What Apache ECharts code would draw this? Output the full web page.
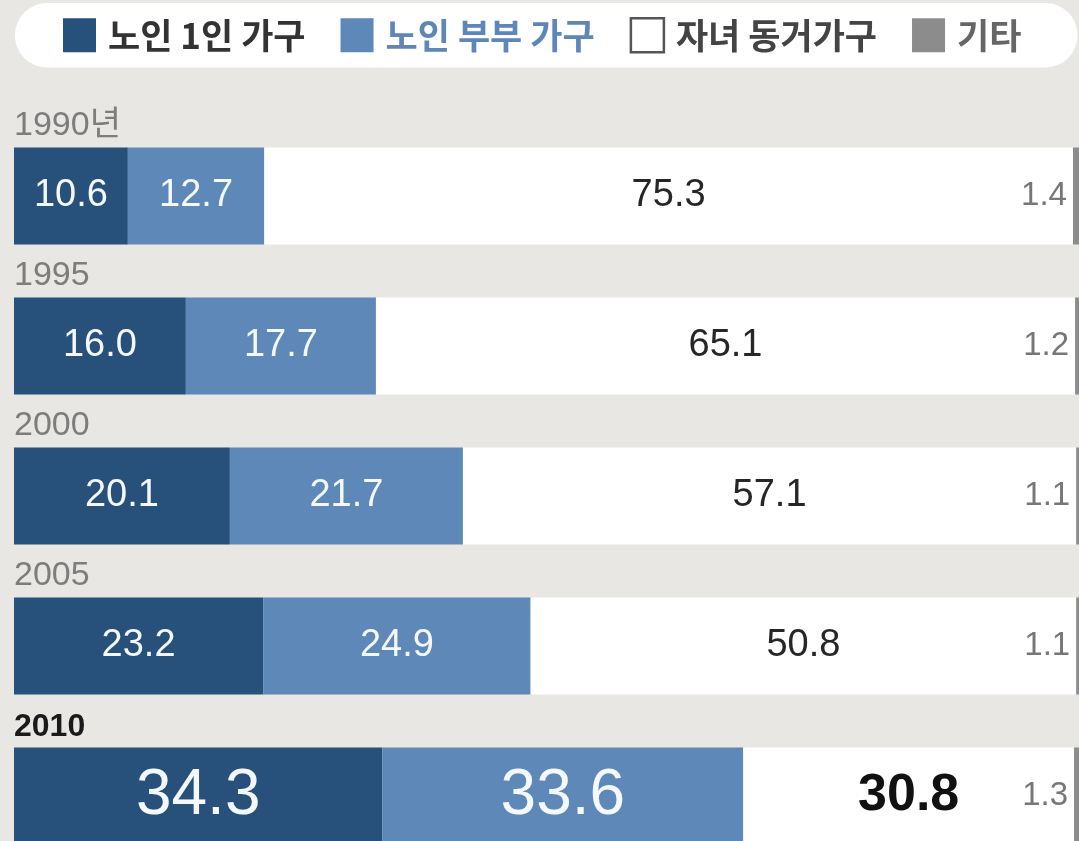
<!DOCTYPE html>
<html>
<head>
<meta charset="utf-8">
<script src="https://cdn.jsdelivr.net/npm/echarts@6/dist/echarts.min.js"></script>
<style>
html,body{margin:0;padding:0;background:#e8e7e4;}
#chart{width:1079px;height:841px;}
</style>
</head>
<body>
<div id="chart"></div>
<script>
// ---- data ----
var years = ['1990년', '1995', '2000', '2005', '2010'];
var seriesNames = ['노인 1인 가구', '노인 부부 가구', '자녀 동거가구', '기타'];
var single = [10.6, 16.0, 20.1, 23.2, 34.3];
var couple = [12.7, 17.7, 21.7, 24.9, 33.6];
var withChildren = [75.3, 65.1, 57.1, 50.8, 30.8];
var other = [1.4, 1.2, 1.1, 1.1, 1.3];

var FONT = "'Liberation Sans', 'Noto Sans CJK KR', sans-serif";
var KFONT = "'Noto Sans CJK KR', 'Liberation Sans', sans-serif";
var hiIndex = years.length - 1;

function fmt(p) { return p.value.toFixed(1); }

function build(values, hiLabel) {
  return values.map(function (v, i) {
    var d = { value: v };
    if (i === hiIndex && hiLabel) d.label = hiLabel;
    return d;
  });
}

var chart = echarts.init(document.getElementById('chart'), null, { renderer: 'canvas' });

var option = {
  backgroundColor: '#e8e7e4',
  animation: false,
  legend: {
    left: 15,
    top: 3,
    width: 1010,
    padding: [14, 56, 14, 48],
    backgroundColor: '#ffffff',
    borderRadius: 32,
    itemWidth: 33,
    itemHeight: 34,
    itemGap: 35,
    selectedMode: false,
    textStyle: { fontFamily: KFONT, fontSize: 35, fontWeight: 'bold', color: '#333', padding: [0, 0, 0, 7] },
    data: [
      { name: seriesNames[0], icon: 'rect', textStyle: { color: '#333333' } },
      { name: seriesNames[1], icon: 'rect', textStyle: { color: '#5e86b6' } },
      { name: seriesNames[2], icon: 'rect', itemStyle: { color: '#ffffff', borderColor: '#555555', borderWidth: 2.5 }, textStyle: { color: '#444444' } },
      { name: seriesNames[3], icon: 'rect', textStyle: { color: '#666666' } }
    ]
  },
  grid: {
    left: 14,
    top: 121,
    width: 1074,
    height: 750,
    outerBoundsMode: 'none',
    containLabel: false
  },
  xAxis: {
    type: 'value',
    min: 0,
    max: 100,
    show: false
  },
  yAxis: {
    type: 'category',
    inverse: true,
    data: years,
    axisLine: { show: false },
    axisTick: { show: false },
    splitLine: { show: false },
    axisLabel: {
      interval: 0,
      showMinLabel: true,
      showMaxLabel: true,
      hideOverlap: false,
      inside: true,
      margin: 0,
      align: 'left',
      verticalAlign: 'bottom',
      padding: [0, 0, 53, 0],
      formatter: function (v, i) {
        return i === hiIndex ? '{hi|' + v + '}' : '{n|' + v + '}';
      },
      rich: {
        n: { fontFamily: FONT, fontSize: 34, color: '#7d7d7d' },
        hi: { fontFamily: FONT, fontSize: 32, fontWeight: 'bold', color: '#1a1a1a' }
      }
    }
  },
  series: [
    {
      name: seriesNames[0], type: 'bar', stack: 'all', barWidth: 97,
      itemStyle: { color: '#27507a' },
      label: { show: true, position: 'inside', color: '#f4f8ff', fontFamily: FONT, fontSize: 38, formatter: fmt },
      data: build(single, { fontSize: 64 })
    },
    {
      name: seriesNames[1], type: 'bar', stack: 'all', barWidth: 97,
      itemStyle: { color: '#5d88b8' },
      label: { show: true, position: 'inside', color: '#f4f8ff', fontFamily: FONT, fontSize: 38, formatter: fmt },
      data: build(couple, { fontSize: 64 })
    },
    {
      name: seriesNames[2], type: 'bar', stack: 'all', barWidth: 97,
      itemStyle: { color: '#ffffff' },
      label: { show: true, position: 'inside', color: '#262626', fontFamily: FONT, fontSize: 38, formatter: fmt },
      data: build(withChildren, { fontSize: 52, fontWeight: 'bold', color: '#111111' })
    },
    {
      name: seriesNames[3], type: 'bar', stack: 'all', barWidth: 97,
      itemStyle: { color: '#8c8c8c' },
      label: { show: true, position: 'left', distance: 6, color: '#777777', fontFamily: FONT, fontSize: 33, formatter: fmt },
      data: build(other, null)
    }
  ]
};

chart.setOption(option);
</script>
</body>
</html>
